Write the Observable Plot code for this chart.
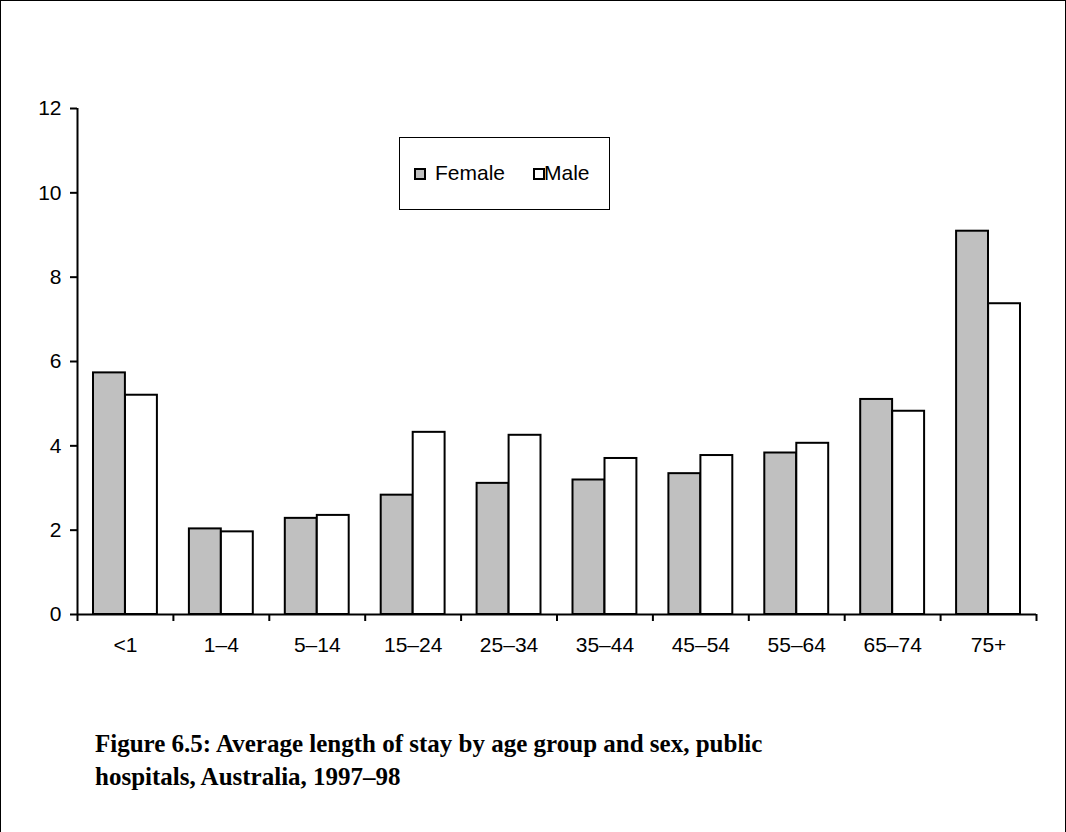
<!DOCTYPE html>
<html>
<head>
<meta charset="utf-8">
<script src="https://cdn.jsdelivr.net/npm/d3@7"></script>
<script src="https://cdn.jsdelivr.net/npm/@observablehq/plot@0.6"></script>
<style>
  html, body { margin: 0; padding: 0; background: #fff; }
  #page { position: relative; width: 1066px; height: 832px; overflow: hidden; background: #fff; }
  #frame { position: absolute; left: 0px; top: 0px; width: 1066px; height: 840px; border: 1.5px solid #000; box-sizing: border-box; pointer-events: none; }
  #chart { position: absolute; left: 0; top: 0; }
  #legend { position: absolute; left: 399px; top: 137px; width: 211px; height: 73px; border: 1px solid #000; box-sizing: border-box; background: #fff;
            font-family: "Liberation Sans", Arial, sans-serif; font-size: 21px; color: #000; }
  .sw { position: absolute; top: 30px; width: 12px; height: 12px; border: 2px solid #000; box-sizing: border-box; }
  .lb { position: absolute; top: 23px; line-height: 24px; }
  #caption { position: absolute; left: 95px; top: 727px; font-family: "Liberation Serif", "Times New Roman", serif; font-weight: bold; font-size: 25px; line-height: 33px; color: #000; white-space: nowrap; }
</style>
</head>
<body>
<div id="page">
  <div id="chart"></div>
  <div id="legend"></div>
  <div id="caption">Figure 6.5: Average length of stay by age group and sex, public<br>hospitals, Australia, 1997–98</div>
  <div id="frame"></div>
</div>
<script>
// Data
const ages = ["<1", "1–4", "5–14", "15–24", "25–34", "35–44", "45–54", "55–64", "65–74", "75+"];
const female = [5.73, 2.03, 2.28, 2.83, 3.11, 3.19, 3.34, 3.83, 5.10, 9.09];
const male = [5.20, 1.96, 2.35, 4.32, 4.25, 3.70, 3.77, 4.06, 4.82, 7.37];
const yTicks = [0, 2, 4, 6, 8, 10, 12];
const series = ["Female", "Male"];
const colors = ["#c0c0c0", "#ffffff"];

const fRows = ages.map((a, i) => ({age: a, i, v: female[i]}));
const mRows = ages.map((a, i) => ({age: a, i, v: male[i]}));
const boundaries = d3.range(ages.length + 1);
const centers = ages.map((a, i) => i + 0.5);

const plot = Plot.plot({
  width: 1066,
  height: 664,
  marginTop: 108,
  marginRight: 30,
  marginBottom: 50,
  marginLeft: 77,
  style: {fontFamily: "'Liberation Sans', Arial, sans-serif", fontSize: "21px", color: "#000", background: "transparent", overflow: "visible"},
  x: {type: "linear", domain: [0, ages.length], axis: null},
  y: {domain: [0, 12], axis: null},
  marks: [
    Plot.rectY(fRows, {x1: "i", x2: d => d.i + 1, y: "v", fill: colors[0], stroke: "#000", strokeWidth: 2, insetLeft: 16, insetRight: 48}),
    Plot.rectY(mRows, {x1: "i", x2: d => d.i + 1, y: "v", fill: colors[1], stroke: "#000", strokeWidth: 2, insetLeft: 48, insetRight: 16}),
    Plot.ruleY([0], {stroke: "#000", strokeWidth: 2}),
    Plot.ruleX([0], {y1: 0, y2: 12, stroke: "#000", strokeWidth: 2}),
    Plot.axisY({ticks: yTicks, tickSize: 7, tickPadding: 9, strokeWidth: 2, label: null, fontSize: 21, tickFormat: d => String(d)}),
    Plot.axisX({ticks: boundaries, tickSize: 7, strokeWidth: 2, tickFormat: () => "", label: null}),
    Plot.axisX({ticks: centers, tickSize: 0, tickPadding: 23, fontSize: 21, tickFormat: d => ages[Math.floor(d)], label: null})
  ]
});
document.getElementById("chart").appendChild(plot);

// Legend (HTML, inside the plot frame as in the reference)
const legend = document.getElementById("legend");
const swX = [14, 133];
const lbX = [35, 144];
series.forEach((s, k) => {
  const sw = document.createElement("div");
  sw.className = "sw";
  sw.style.left = swX[k] + "px";
  sw.style.background = colors[k];
  legend.appendChild(sw);
  const lb = document.createElement("div");
  lb.className = "lb";
  lb.style.left = lbX[k] + "px";
  lb.textContent = s;
  legend.appendChild(lb);
});
</script>
</body>
</html>
